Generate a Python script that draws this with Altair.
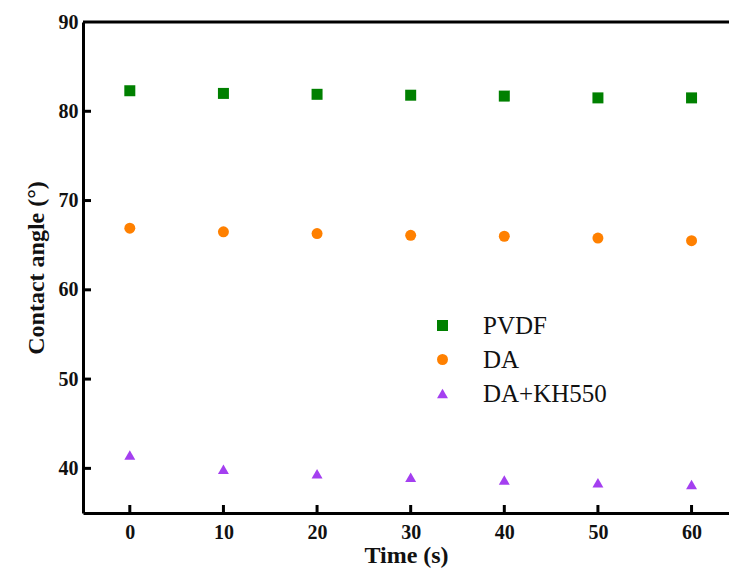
import altair as alt
import pandas as pd

# ---- data ----
times = [0, 10, 20, 30, 40, 50, 60]
series_names = ["PVDF", "DA", "DA+KH550"]
pvdf = [82.3, 82.0, 81.9, 81.8, 81.7, 81.5, 81.5]
da = [66.9, 66.5, 66.3, 66.1, 66.0, 65.8, 65.5]
da_kh550 = [41.5, 39.9, 39.4, 39.0, 38.7, 38.4, 38.2]
x_ticks = [0, 10, 20, 30, 40, 50, 60]
y_ticks = [40, 50, 60, 70, 80, 90]

rows = []
for name, vals in zip(series_names, [pvdf, da, da_kh550]):
    for t, v in zip(times, vals):
        rows.append({"Time": t, "Angle": v, "Series": name})
df = pd.DataFrame(rows)

W, H = 646, 491
TICK = 8
FONT = "Liberation Serif"

xscale = alt.Scale(domain=[-5, 64], nice=False, zero=False)
yscale = alt.Scale(domain=[35, 90], nice=False, zero=False)

color = alt.Color(
    "Series:N",
    scale=alt.Scale(domain=series_names, range=["#008000", "#ff8000", "#a43ff0"]),
    legend=alt.Legend(
        title=None,
        orient="none",
        legendX=347,
        legendY=291,
        labelFont=FONT,
        labelFontSize=25,
        labelFontWeight="normal",
        labelColor="#111111",
        labelOffset=28,
        rowPadding=8,
        symbolSize=130,
        symbolStrokeWidth=0,
        padding=0,
    ),
)
shape = alt.Shape(
    "Series:N",
    scale=alt.Scale(domain=series_names, range=["square", "circle", "triangle-up"]),
    legend=alt.Legend(title=None, orient="none", legendX=347, legendY=291),
)
size = alt.Size(
    "Series:N",
    scale=alt.Scale(domain=series_names, range=[121, 120, 235]),
    legend=None,
)

points = alt.Chart(df).mark_point(filled=True, opacity=1, strokeWidth=0).encode(
    x=alt.X(
        "Time:Q",
        scale=xscale,
        axis=alt.Axis(
            title="Time (s)",
            values=x_ticks,
            ticks=False,
            grid=False,
            domainColor="black",
            domainWidth=3,
            labelFont=FONT,
            labelFontSize=20,
            labelFontWeight="bold",
            labelColor="#111111",
            labelPadding=9,
            titleFont=FONT,
            titleFontSize=24,
            titleFontWeight="bold",
            titleColor="#111111",
            titlePadding=1,
        ),
    ),
    y=alt.Y(
        "Angle:Q",
        scale=yscale,
        axis=alt.Axis(
            title="Contact angle (°)",
            values=y_ticks,
            ticks=False,
            grid=False,
            domainColor="black",
            domainWidth=3,
            labelFont=FONT,
            labelFontSize=20,
            labelFontWeight="bold",
            labelColor="#111111",
            labelPadding=5,
            titleFont=FONT,
            titleFontSize=24,
            titleFontWeight="bold",
            titleColor="#111111",
            titlePadding=10,
        ),
    ),
    color=color,
    shape=shape,
    size=size,
)

# inward-pointing tick marks, placed through the shared scales
xt_df = pd.DataFrame({"t": x_ticks})
yt_df = pd.DataFrame({"v": [v for v in y_ticks if v < 90]})

x_tick_marks = alt.Chart(xt_df).mark_rule(color="black", strokeWidth=3).encode(
    x=alt.X("t:Q", scale=xscale, axis=None),
    y=alt.value(H),
    y2=alt.value(H - TICK),
)
y_tick_marks = alt.Chart(yt_df).mark_rule(color="black", strokeWidth=3).encode(
    y=alt.Y("v:Q", scale=yscale, axis=None),
    x=alt.value(0),
    x2=alt.value(TICK),
)

top_df = pd.DataFrame({"y": [90]})
top_line = alt.Chart(top_df).mark_rule(color="black", strokeWidth=3).encode(
    y=alt.Y("y:Q", scale=yscale, axis=None),
    x=alt.value(0),
    x2=alt.value(W),
)

chart = (
    alt.layer(points, x_tick_marks, y_tick_marks, top_line)
    .resolve_axis(x="independent", y="independent")
    .properties(
        width=W,
        height=H,
        autosize=alt.AutoSizeParams(type="none"),
        padding={"left": 83, "top": 22, "right": 0, "bottom": 58},
        background="white",
    )
    .configure_view(stroke=None)
)

chart.save("out.html", embed_options={"renderer": "svg", "actions": False})
